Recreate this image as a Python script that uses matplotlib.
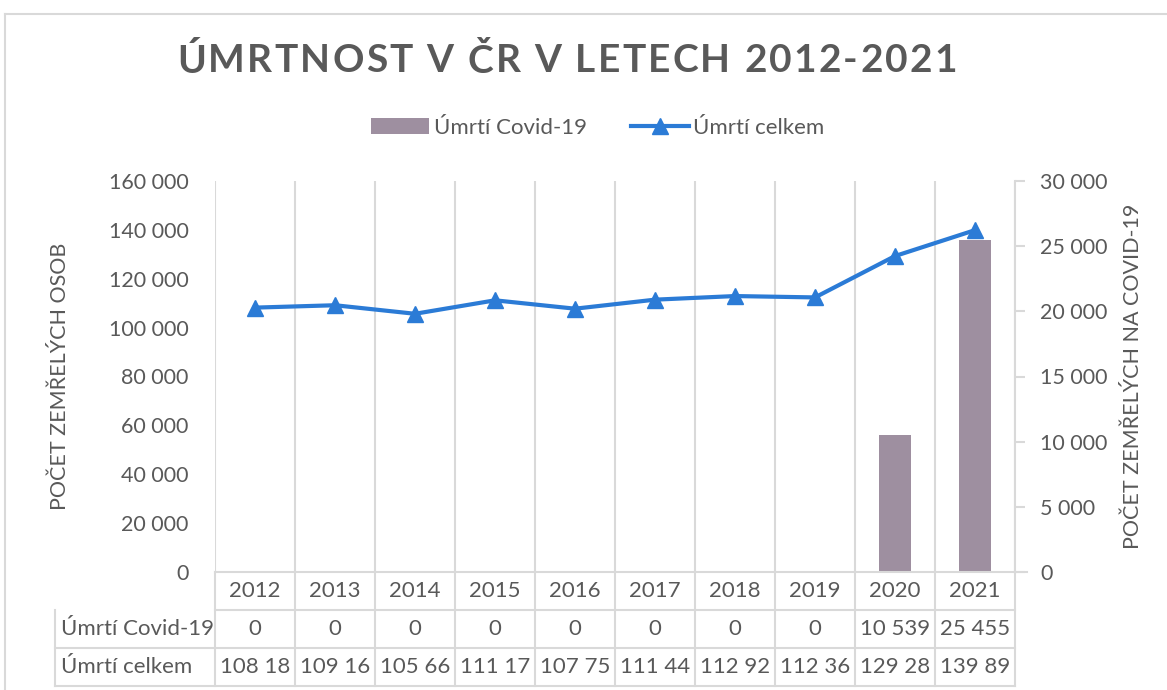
import matplotlib
matplotlib.use("Agg")
import matplotlib.pyplot as plt
import matplotlib.transforms as mtransforms
from matplotlib.patches import Patch
from matplotlib.lines import Line2D
from matplotlib.font_manager import FontProperties

# data
years = ["2012", "2013", "2014", "2015", "2016", "2017", "2018", "2019", "2020", "2021"]
covid_deaths = [0, 0, 0, 0, 0, 0, 0, 0, 10539, 25455]
total_deaths = [108189, 109160, 105665, 111173, 107750, 111443, 112920, 112362, 129289, 139891]
left_ticks = [0, 20000, 40000, 60000, 80000, 100000, 120000, 140000, 160000]
right_ticks = [0, 5000, 10000, 15000, 20000, 25000, 30000]
title = "ÚMRTNOST V ČR V LETECH 2012-2021"

TXT = "#595959"
GRID = "#D9D9D9"
BAR = "#9E8FA0"
LINE = "#2B7BD6"

plt.rcParams["font.family"] = ["Lato", "DejaVu Sans"]


def fmt(v):
    return f"{v:,}".replace(",", " ")


W, H = 1167, 690
fig = plt.figure(figsize=(W / 100, H / 100), dpi=100)

# plot area in pixels
px0, px1, py_top, py_bot = 215, 1015, 181, 572
ax = fig.add_axes([px0 / W, 1 - py_bot / H, (px1 - px0) / W, (py_bot - py_top) / H])
ax2 = ax.twinx()

x = list(range(len(years)))

# bars on secondary axis
ax2.bar(x, covid_deaths, width=0.4, color=BAR, zorder=2)
ax2.set_ylim(0, 30000)
ax2.set_yticks(right_ticks)
ax2.set_yticklabels([fmt(v) for v in right_ticks])

# line on primary axis
ax.plot(x, total_deaths, color=LINE, linewidth=3, marker="^", markersize=11,
        zorder=5)
ax.set_ylim(0, 160000)
ax.set_yticks(left_ticks)
ax.set_yticklabels([fmt(v) for v in left_ticks])
ax.set_xlim(-0.5, len(years) - 0.5)
ax.set_xticks([])
ax.set_zorder(ax2.get_zorder() + 1)
ax.patch.set_visible(False)

# vertical gridlines at category boundaries
for b in range(len(years) + 1):
    ax.axvline(b - 0.5, color=GRID, linewidth=1.5, zorder=0)

for a in (ax, ax2):
    for s in a.spines.values():
        s.set_visible(False)
ax.tick_params(axis="y", length=0, pad=19, labelsize=15.5, colors=TXT)
ax2.tick_params(axis="y", length=7, width=1.5, color=GRID, pad=11,
                labelsize=15.5, labelcolor=TXT)
ax2.spines["right"].set_visible(True)
ax2.spines["right"].set_color(GRID)
ax2.spines["right"].set_linewidth(1.5)
ax2.set_xticks([])

ax.set_ylabel("POČET ZEMŘELÝCH OSOB", fontsize=15.5, color=TXT, labelpad=28)
ax2.set_ylabel("POČET ZEMŘELÝCH NA COVID-19", fontsize=15.5, color=TXT,
               labelpad=11)

# data table below the plot
row_h = 38 / (py_bot - py_top)
trans = mtransforms.blended_transform_factory(ax.transData, ax.transAxes)
x_left_table = -0.5 - (px0 - 55) / ((px1 - px0) / len(years))
for r in range(4):
    y = -r * row_h
    x_start = -0.5 if r <= 1 else x_left_table
    ax.plot([x_start, len(years) - 0.5 + 0.15 * (r == 0)], [y, y], transform=trans,
            color=GRID, linewidth=1.5, clip_on=False)
for b in range(len(years) + 1):
    ax.plot([b - 0.5, b - 0.5], [0, -3 * row_h], transform=trans, color=GRID,
            linewidth=1.5, clip_on=False)
ax.plot([x_left_table, x_left_table], [-row_h, -3 * row_h], transform=trans,
        color=GRID, linewidth=1.5, clip_on=False)

for i, yr in enumerate(years):
    ax.text(i, -0.5 * row_h, yr, transform=trans, ha="center", va="center",
            fontsize=16, color=TXT)
    ax.text(i, -1.5 * row_h, fmt(covid_deaths[i]), transform=trans, ha="center",
            va="center", fontsize=16, color=TXT)
    # Excel clips the too-wide number inside its cell
    ax.text(i, -2.5 * row_h, fmt(total_deaths[i])[:6], transform=trans,
            ha="center", va="center", fontsize=16, color=TXT)

lab_x = x_left_table + 0.08
ax.text(lab_x, -1.5 * row_h, "Úmrtí Covid-19", transform=trans, ha="left",
        va="center", fontsize=16, color=TXT)
ax.text(lab_x, -2.5 * row_h, "Úmrtí celkem", transform=trans, ha="left",
        va="center", fontsize=16, color=TXT)

# title with letter spacing (placed char by char)
renderer = fig.canvas.get_renderer()
tprop = FontProperties(family=["Lato", "DejaVu Sans"], weight="bold", size=28)
widths = [renderer.get_text_width_height_descent(c, tprop, ismath=False)[0]
          for c in title]
track = 2.2
total = sum(widths) + track * (len(title) - 1)
cx = 567 - total / 2
for c, w in zip(title, widths):
    fig.text(cx / W, 1 - 61 / H, c, ha="left", va="center",
             fontproperties=tprop, color=TXT)
    cx += w + track

# legend
handles = [Patch(facecolor=BAR, edgecolor="none"),
           Line2D([], [], color=LINE, linewidth=3, marker="^", markersize=11)]
fig.legend(handles, ["Úmrtí Covid-19", "Úmrtí celkem"], loc="center",
           bbox_to_anchor=(598 / W, 1 - 128 / H), ncol=2, frameon=False,
           fontsize=16, labelcolor=TXT, handlelength=2.6, handletextpad=0.2,
           columnspacing=2.0)

# chart border
fig.add_artist(plt.Line2D([5 / W, 5 / W], [0, 1 - 14 / H], color=GRID,
                          linewidth=1.5, transform=fig.transFigure))
fig.add_artist(plt.Line2D([5 / W, 1], [1 - 14 / H, 1 - 14 / H], color=GRID,
                          linewidth=1.5, transform=fig.transFigure))

fig.savefig("out.png", dpi=100)
